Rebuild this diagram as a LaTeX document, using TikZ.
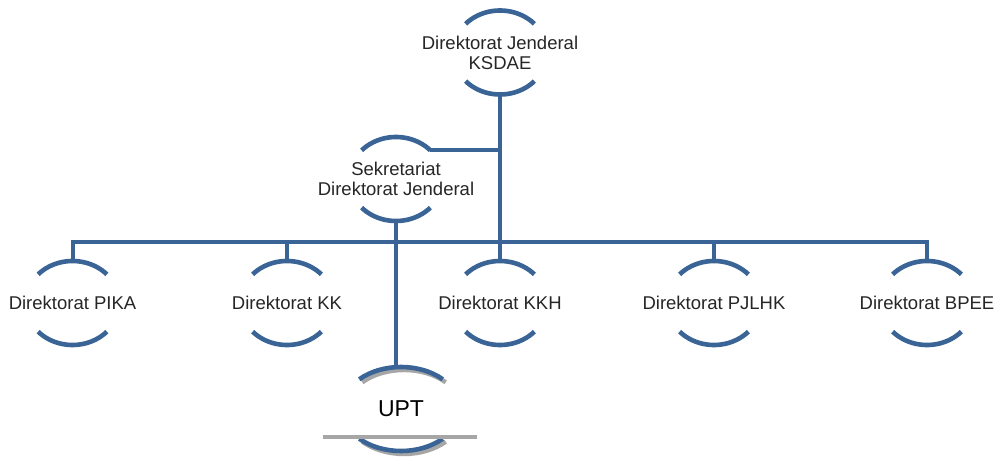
\documentclass[tikz,border=0pt]{standalone}
\usepackage{fontspec}
\setmainfont{Liberation Sans}
\usetikzlibrary{shapes.geometric}
\definecolor{lineblue}{RGB}{58,100,150}
\definecolor{txtgray}{RGB}{38,38,38}
\definecolor{shadowgray}{RGB}{166,166,166}
\begin{document}
\begin{tikzpicture}[x=1pt,y=1pt,
  unit/.style={ellipse, minimum width=96pt, minimum height=84pt, inner sep=0pt, outer sep=0pt,
    align=center, text=txtgray, font=\fontsize{18.5}{20}\selectfont},
  arcline/.style={draw=lineblue, line width=4.6pt},
  shadowline/.style={draw=shadowgray, line width=4.4pt},
  conn/.style={draw=lineblue, line width=4pt, line join=miter}]
\useasboundingbox (0,0) rectangle (1002,-462);
\fill[white] (0,0) rectangle (1002,-462);
% nodes
\node[unit] (top) at (500,-52.5) {Direktorat Jenderal\\KSDAE};
\node[unit] (sek) at (396,-179) {Sekretariat\\Direktorat Jenderal};
\node[unit] (pika) at (72.5,-303) {Direktorat PIKA};
\node[unit] (kk) at (287,-303) {Direktorat KK};
\node[unit] (kkh) at (500,-303) {Direktorat KKH};
\node[unit] (pjlhk) at (714,-303) {Direktorat PJLHK};
\node[unit] (bpee) at (927,-303) {Direktorat BPEE};
\node[unit, minimum width=118pt, text=black, font=\fontsize{23}{25}\selectfont] (upt) at (401,-409) {UPT};
% arcs
\foreach \n in {top,sek,pika,kk,kkh,pjlhk,bpee} {
  \draw[arcline] ([shift={(43:47pt and 42pt)}]\n.center) arc[start angle=43,end angle=137,x radius=47pt,y radius=42pt];
  \draw[arcline] ([shift={(223:47pt and 42pt)}]\n.center) arc[start angle=223,end angle=317,x radius=47pt,y radius=42pt];
}
% UPT arcs with shadow
\draw[shadowline] ([shift={(45:59pt and 42pt)},xshift=3pt,yshift=-3pt]upt.center) arc[start angle=45,end angle=135,x radius=59pt,y radius=42pt];
\draw[shadowline] ([shift={(225:59pt and 42pt)},xshift=3pt,yshift=-3pt]upt.center) arc[start angle=225,end angle=315,x radius=59pt,y radius=42pt];
\draw[arcline] ([shift={(45:59pt and 42pt)}]upt.center) arc[start angle=45,end angle=135,x radius=59pt,y radius=42pt];
\draw[arcline] ([shift={(225:59pt and 42pt)}]upt.center) arc[start angle=225,end angle=315,x radius=59pt,y radius=42pt];
\draw[shadowline] ([xshift=-78pt,yshift=-28pt]upt.center) -- ([xshift=76pt,yshift=-28pt]upt.center);
% connectors
\coordinate (bus) at (500,-242);
\draw[conn] (pika.north) -- (pika.north |- bus) -- (bpee.north |- bus) -- (bpee.north);
\draw[conn] (kk.north) -- (kk.north |- bus);
\draw[conn] (pjlhk.north) -- (pjlhk.north |- bus);
\draw[conn] (top.south) -- (kkh.north);
\coordinate (sekend) at ([shift={(43:47pt and 42pt)}]sek.center);
\draw[conn] (sekend) -- (sekend -| top.south);
\draw[conn] (sek.south) -- (sek.south |- upt.north);
\end{tikzpicture}
\end{document}
